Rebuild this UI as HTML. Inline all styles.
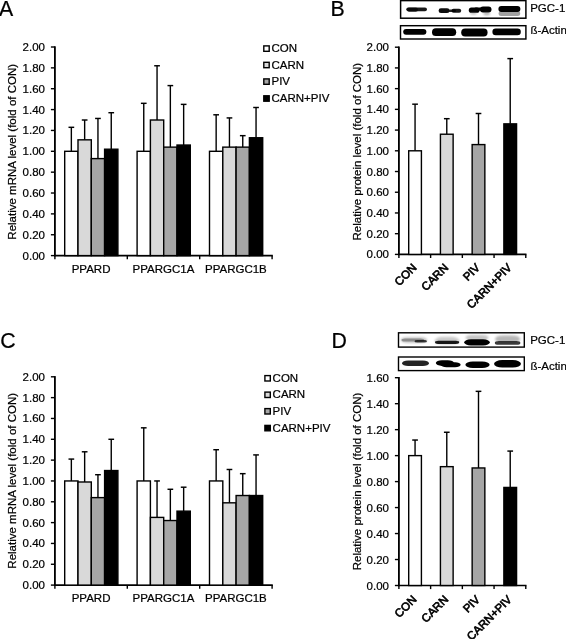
<!DOCTYPE html>
<html><head><meta charset="utf-8"><title>Figure</title>
<style>html,body{margin:0;padding:0;background:#fff;}svg{display:block;}text{font-family:'Liberation Sans', 'DejaVu Sans', sans-serif;fill:#000;stroke:#000;stroke-width:0.22px;}</style>
</head><body>
<svg width="566" height="639" viewBox="0 0 566 639">
<defs>
<filter id="b0" x="-20%" y="-50%" width="140%" height="200%"><feGaussianBlur stdDeviation="0.45"/></filter>
<filter id="b1" x="-20%" y="-50%" width="140%" height="200%"><feGaussianBlur stdDeviation="0.65"/></filter>
<filter id="b2" x="-20%" y="-50%" width="140%" height="200%"><feGaussianBlur stdDeviation="1.1"/></filter>
</defs>
<rect width="566" height="639" fill="#fff"/>
<text x="-0.90" y="15.90" font-size="21.3" text-anchor="start" >A</text>
<text x="330.60" y="16.00" font-size="21.3" text-anchor="start" >B</text>
<text x="0.30" y="348.00" font-size="21.3" text-anchor="start" >C</text>
<text x="331.40" y="348.00" font-size="21.3" text-anchor="start" >D</text>
<line x1="50.90" y1="255.60" x2="54.90" y2="255.60" stroke="#000" stroke-width="1.4"/>
<text x="45.00" y="259.60" font-size="11.5" text-anchor="end" >0.00</text>
<line x1="50.90" y1="234.74" x2="54.90" y2="234.74" stroke="#000" stroke-width="1.4"/>
<text x="45.00" y="238.74" font-size="11.5" text-anchor="end" >0.20</text>
<line x1="50.90" y1="213.88" x2="54.90" y2="213.88" stroke="#000" stroke-width="1.4"/>
<text x="45.00" y="217.88" font-size="11.5" text-anchor="end" >0.40</text>
<line x1="50.90" y1="193.02" x2="54.90" y2="193.02" stroke="#000" stroke-width="1.4"/>
<text x="45.00" y="197.02" font-size="11.5" text-anchor="end" >0.60</text>
<line x1="50.90" y1="172.16" x2="54.90" y2="172.16" stroke="#000" stroke-width="1.4"/>
<text x="45.00" y="176.16" font-size="11.5" text-anchor="end" >0.80</text>
<line x1="50.90" y1="151.30" x2="54.90" y2="151.30" stroke="#000" stroke-width="1.4"/>
<text x="45.00" y="155.30" font-size="11.5" text-anchor="end" >1.00</text>
<line x1="50.90" y1="130.44" x2="54.90" y2="130.44" stroke="#000" stroke-width="1.4"/>
<text x="45.00" y="134.44" font-size="11.5" text-anchor="end" >1.20</text>
<line x1="50.90" y1="109.58" x2="54.90" y2="109.58" stroke="#000" stroke-width="1.4"/>
<text x="45.00" y="113.58" font-size="11.5" text-anchor="end" >1.40</text>
<line x1="50.90" y1="88.72" x2="54.90" y2="88.72" stroke="#000" stroke-width="1.4"/>
<text x="45.00" y="92.72" font-size="11.5" text-anchor="end" >1.60</text>
<line x1="50.90" y1="67.86" x2="54.90" y2="67.86" stroke="#000" stroke-width="1.4"/>
<text x="45.00" y="71.86" font-size="11.5" text-anchor="end" >1.80</text>
<line x1="50.90" y1="47.00" x2="54.90" y2="47.00" stroke="#000" stroke-width="1.4"/>
<text x="45.00" y="51.00" font-size="11.5" text-anchor="end" >2.00</text>
<line x1="54.90" y1="46.30" x2="54.90" y2="256.30" stroke="#000" stroke-width="1.85"/>
<text transform="translate(16.10,151.80) rotate(-90)" font-size="11.5" text-anchor="middle">Relative mRNA level (fold of CON)</text>
<line x1="54.00" y1="255.60" x2="272.80" y2="255.60" stroke="#000" stroke-width="1.6"/>
<line x1="54.90" y1="255.60" x2="54.90" y2="259.20" stroke="#000" stroke-width="1.4"/>
<line x1="127.30" y1="255.60" x2="127.30" y2="259.20" stroke="#000" stroke-width="1.4"/>
<line x1="199.70" y1="255.60" x2="199.70" y2="259.20" stroke="#000" stroke-width="1.4"/>
<line x1="272.10" y1="255.60" x2="272.10" y2="259.20" stroke="#000" stroke-width="1.4"/>
<line x1="71.35" y1="151.30" x2="71.35" y2="127.31" stroke="#000" stroke-width="1.4"/>
<line x1="68.50" y1="127.31" x2="74.20" y2="127.31" stroke="#000" stroke-width="1.45"/>
<line x1="84.65" y1="139.83" x2="84.65" y2="120.01" stroke="#000" stroke-width="1.4"/>
<line x1="81.80" y1="120.01" x2="87.50" y2="120.01" stroke="#000" stroke-width="1.45"/>
<line x1="97.95" y1="158.60" x2="97.95" y2="118.45" stroke="#000" stroke-width="1.4"/>
<line x1="95.10" y1="118.45" x2="100.80" y2="118.45" stroke="#000" stroke-width="1.45"/>
<line x1="111.25" y1="149.21" x2="111.25" y2="112.71" stroke="#000" stroke-width="1.4"/>
<line x1="108.40" y1="112.71" x2="114.10" y2="112.71" stroke="#000" stroke-width="1.45"/>
<rect x="64.70" y="151.30" width="13.30" height="104.30" fill="#ffffff" stroke="#000" stroke-width="1.4"/>
<rect x="78.00" y="139.83" width="13.30" height="115.77" fill="#d9d9d9" stroke="#000" stroke-width="1.4"/>
<rect x="91.30" y="158.60" width="13.30" height="97.00" fill="#a6a6a6" stroke="#000" stroke-width="1.4"/>
<rect x="104.60" y="149.21" width="13.30" height="106.39" fill="#000000" stroke="#000" stroke-width="1.4"/>
<text x="91.10" y="272.80" font-size="11.5" text-anchor="middle" >PPARD</text>
<line x1="143.75" y1="151.30" x2="143.75" y2="103.32" stroke="#000" stroke-width="1.4"/>
<line x1="140.90" y1="103.32" x2="146.60" y2="103.32" stroke="#000" stroke-width="1.45"/>
<line x1="157.05" y1="120.01" x2="157.05" y2="65.77" stroke="#000" stroke-width="1.4"/>
<line x1="154.20" y1="65.77" x2="159.90" y2="65.77" stroke="#000" stroke-width="1.45"/>
<line x1="170.35" y1="147.13" x2="170.35" y2="85.59" stroke="#000" stroke-width="1.4"/>
<line x1="167.50" y1="85.59" x2="173.20" y2="85.59" stroke="#000" stroke-width="1.45"/>
<line x1="183.65" y1="145.04" x2="183.65" y2="104.37" stroke="#000" stroke-width="1.4"/>
<line x1="180.80" y1="104.37" x2="186.50" y2="104.37" stroke="#000" stroke-width="1.45"/>
<rect x="137.10" y="151.30" width="13.30" height="104.30" fill="#ffffff" stroke="#000" stroke-width="1.4"/>
<rect x="150.40" y="120.01" width="13.30" height="135.59" fill="#d9d9d9" stroke="#000" stroke-width="1.4"/>
<rect x="163.70" y="147.13" width="13.30" height="108.47" fill="#a6a6a6" stroke="#000" stroke-width="1.4"/>
<rect x="177.00" y="145.04" width="13.30" height="110.56" fill="#000000" stroke="#000" stroke-width="1.4"/>
<text x="163.50" y="272.80" font-size="11.5" text-anchor="middle" >PPARGC1A</text>
<line x1="216.15" y1="151.30" x2="216.15" y2="114.79" stroke="#000" stroke-width="1.4"/>
<line x1="213.30" y1="114.79" x2="219.00" y2="114.79" stroke="#000" stroke-width="1.45"/>
<line x1="229.45" y1="147.13" x2="229.45" y2="117.92" stroke="#000" stroke-width="1.4"/>
<line x1="226.60" y1="117.92" x2="232.30" y2="117.92" stroke="#000" stroke-width="1.45"/>
<line x1="242.75" y1="147.13" x2="242.75" y2="135.66" stroke="#000" stroke-width="1.4"/>
<line x1="239.90" y1="135.66" x2="245.60" y2="135.66" stroke="#000" stroke-width="1.45"/>
<line x1="256.05" y1="137.74" x2="256.05" y2="107.49" stroke="#000" stroke-width="1.4"/>
<line x1="253.20" y1="107.49" x2="258.90" y2="107.49" stroke="#000" stroke-width="1.45"/>
<rect x="209.50" y="151.30" width="13.30" height="104.30" fill="#ffffff" stroke="#000" stroke-width="1.4"/>
<rect x="222.80" y="147.13" width="13.30" height="108.47" fill="#d9d9d9" stroke="#000" stroke-width="1.4"/>
<rect x="236.10" y="147.13" width="13.30" height="108.47" fill="#a6a6a6" stroke="#000" stroke-width="1.4"/>
<rect x="249.40" y="137.74" width="13.30" height="117.86" fill="#000000" stroke="#000" stroke-width="1.4"/>
<text x="235.90" y="272.80" font-size="11.5" text-anchor="middle" >PPARGC1B</text>
<rect x="263.80" y="45.90" width="5.4" height="5.4" fill="#ffffff" stroke="#000" stroke-width="1.4"/>
<text x="271.50" y="52.20" font-size="11.5" text-anchor="start" >CON</text>
<rect x="263.80" y="62.30" width="5.4" height="5.4" fill="#d9d9d9" stroke="#000" stroke-width="1.4"/>
<text x="271.50" y="68.60" font-size="11.5" text-anchor="start" >CARN</text>
<rect x="263.80" y="78.90" width="5.4" height="5.4" fill="#a6a6a6" stroke="#000" stroke-width="1.4"/>
<text x="271.50" y="85.20" font-size="11.5" text-anchor="start" >PIV</text>
<rect x="263.80" y="95.80" width="5.4" height="5.4" fill="#000000" stroke="#000" stroke-width="1.4"/>
<text x="271.50" y="102.10" font-size="11.5" text-anchor="start" >CARN+PIV</text>
<line x1="50.90" y1="585.10" x2="54.90" y2="585.10" stroke="#000" stroke-width="1.4"/>
<text x="45.00" y="589.10" font-size="11.5" text-anchor="end" >0.00</text>
<line x1="50.90" y1="564.27" x2="54.90" y2="564.27" stroke="#000" stroke-width="1.4"/>
<text x="45.00" y="568.27" font-size="11.5" text-anchor="end" >0.20</text>
<line x1="50.90" y1="543.44" x2="54.90" y2="543.44" stroke="#000" stroke-width="1.4"/>
<text x="45.00" y="547.44" font-size="11.5" text-anchor="end" >0.40</text>
<line x1="50.90" y1="522.61" x2="54.90" y2="522.61" stroke="#000" stroke-width="1.4"/>
<text x="45.00" y="526.61" font-size="11.5" text-anchor="end" >0.60</text>
<line x1="50.90" y1="501.78" x2="54.90" y2="501.78" stroke="#000" stroke-width="1.4"/>
<text x="45.00" y="505.78" font-size="11.5" text-anchor="end" >0.80</text>
<line x1="50.90" y1="480.95" x2="54.90" y2="480.95" stroke="#000" stroke-width="1.4"/>
<text x="45.00" y="484.95" font-size="11.5" text-anchor="end" >1.00</text>
<line x1="50.90" y1="460.12" x2="54.90" y2="460.12" stroke="#000" stroke-width="1.4"/>
<text x="45.00" y="464.12" font-size="11.5" text-anchor="end" >1.20</text>
<line x1="50.90" y1="439.29" x2="54.90" y2="439.29" stroke="#000" stroke-width="1.4"/>
<text x="45.00" y="443.29" font-size="11.5" text-anchor="end" >1.40</text>
<line x1="50.90" y1="418.46" x2="54.90" y2="418.46" stroke="#000" stroke-width="1.4"/>
<text x="45.00" y="422.46" font-size="11.5" text-anchor="end" >1.60</text>
<line x1="50.90" y1="397.63" x2="54.90" y2="397.63" stroke="#000" stroke-width="1.4"/>
<text x="45.00" y="401.63" font-size="11.5" text-anchor="end" >1.80</text>
<line x1="50.90" y1="376.80" x2="54.90" y2="376.80" stroke="#000" stroke-width="1.4"/>
<text x="45.00" y="380.80" font-size="11.5" text-anchor="end" >2.00</text>
<line x1="54.90" y1="376.10" x2="54.90" y2="585.80" stroke="#000" stroke-width="1.85"/>
<text transform="translate(16.00,480.80) rotate(-90)" font-size="11.5" text-anchor="middle">Relative mRNA level (fold of CON)</text>
<line x1="54.00" y1="585.10" x2="272.80" y2="585.10" stroke="#000" stroke-width="1.6"/>
<line x1="54.90" y1="585.10" x2="54.90" y2="588.70" stroke="#000" stroke-width="1.4"/>
<line x1="127.30" y1="585.10" x2="127.30" y2="588.70" stroke="#000" stroke-width="1.4"/>
<line x1="199.70" y1="585.10" x2="199.70" y2="588.70" stroke="#000" stroke-width="1.4"/>
<line x1="272.10" y1="585.10" x2="272.10" y2="588.70" stroke="#000" stroke-width="1.4"/>
<line x1="71.35" y1="480.95" x2="71.35" y2="459.08" stroke="#000" stroke-width="1.4"/>
<line x1="68.50" y1="459.08" x2="74.20" y2="459.08" stroke="#000" stroke-width="1.45"/>
<line x1="84.65" y1="481.99" x2="84.65" y2="451.79" stroke="#000" stroke-width="1.4"/>
<line x1="81.80" y1="451.79" x2="87.50" y2="451.79" stroke="#000" stroke-width="1.45"/>
<line x1="97.95" y1="497.61" x2="97.95" y2="474.70" stroke="#000" stroke-width="1.4"/>
<line x1="95.10" y1="474.70" x2="100.80" y2="474.70" stroke="#000" stroke-width="1.45"/>
<line x1="111.25" y1="470.54" x2="111.25" y2="439.29" stroke="#000" stroke-width="1.4"/>
<line x1="108.40" y1="439.29" x2="114.10" y2="439.29" stroke="#000" stroke-width="1.45"/>
<rect x="64.70" y="480.95" width="13.30" height="104.15" fill="#ffffff" stroke="#000" stroke-width="1.4"/>
<rect x="78.00" y="481.99" width="13.30" height="103.11" fill="#d9d9d9" stroke="#000" stroke-width="1.4"/>
<rect x="91.30" y="497.61" width="13.30" height="87.49" fill="#a6a6a6" stroke="#000" stroke-width="1.4"/>
<rect x="104.60" y="470.54" width="13.30" height="114.56" fill="#000000" stroke="#000" stroke-width="1.4"/>
<text x="91.10" y="602.00" font-size="11.5" text-anchor="middle" >PPARD</text>
<line x1="143.75" y1="480.95" x2="143.75" y2="427.83" stroke="#000" stroke-width="1.4"/>
<line x1="140.90" y1="427.83" x2="146.60" y2="427.83" stroke="#000" stroke-width="1.45"/>
<line x1="157.05" y1="517.40" x2="157.05" y2="480.95" stroke="#000" stroke-width="1.4"/>
<line x1="154.20" y1="480.95" x2="159.90" y2="480.95" stroke="#000" stroke-width="1.45"/>
<line x1="170.35" y1="520.53" x2="170.35" y2="489.28" stroke="#000" stroke-width="1.4"/>
<line x1="167.50" y1="489.28" x2="173.20" y2="489.28" stroke="#000" stroke-width="1.45"/>
<line x1="183.65" y1="511.15" x2="183.65" y2="487.20" stroke="#000" stroke-width="1.4"/>
<line x1="180.80" y1="487.20" x2="186.50" y2="487.20" stroke="#000" stroke-width="1.45"/>
<rect x="137.10" y="480.95" width="13.30" height="104.15" fill="#ffffff" stroke="#000" stroke-width="1.4"/>
<rect x="150.40" y="517.40" width="13.30" height="67.70" fill="#d9d9d9" stroke="#000" stroke-width="1.4"/>
<rect x="163.70" y="520.53" width="13.30" height="64.57" fill="#a6a6a6" stroke="#000" stroke-width="1.4"/>
<rect x="177.00" y="511.15" width="13.30" height="73.95" fill="#000000" stroke="#000" stroke-width="1.4"/>
<text x="163.50" y="602.00" font-size="11.5" text-anchor="middle" >PPARGC1A</text>
<line x1="216.15" y1="480.95" x2="216.15" y2="449.71" stroke="#000" stroke-width="1.4"/>
<line x1="213.30" y1="449.71" x2="219.00" y2="449.71" stroke="#000" stroke-width="1.45"/>
<line x1="229.45" y1="502.82" x2="229.45" y2="469.49" stroke="#000" stroke-width="1.4"/>
<line x1="226.60" y1="469.49" x2="232.30" y2="469.49" stroke="#000" stroke-width="1.45"/>
<line x1="242.75" y1="495.53" x2="242.75" y2="473.66" stroke="#000" stroke-width="1.4"/>
<line x1="239.90" y1="473.66" x2="245.60" y2="473.66" stroke="#000" stroke-width="1.45"/>
<line x1="256.05" y1="495.53" x2="256.05" y2="454.91" stroke="#000" stroke-width="1.4"/>
<line x1="253.20" y1="454.91" x2="258.90" y2="454.91" stroke="#000" stroke-width="1.45"/>
<rect x="209.50" y="480.95" width="13.30" height="104.15" fill="#ffffff" stroke="#000" stroke-width="1.4"/>
<rect x="222.80" y="502.82" width="13.30" height="82.28" fill="#d9d9d9" stroke="#000" stroke-width="1.4"/>
<rect x="236.10" y="495.53" width="13.30" height="89.57" fill="#a6a6a6" stroke="#000" stroke-width="1.4"/>
<rect x="249.40" y="495.53" width="13.30" height="89.57" fill="#000000" stroke="#000" stroke-width="1.4"/>
<text x="235.90" y="602.00" font-size="11.5" text-anchor="middle" >PPARGC1B</text>
<rect x="264.90" y="375.60" width="5.4" height="5.4" fill="#ffffff" stroke="#000" stroke-width="1.4"/>
<text x="272.60" y="381.90" font-size="11.5" text-anchor="start" >CON</text>
<rect x="264.90" y="392.10" width="5.4" height="5.4" fill="#d9d9d9" stroke="#000" stroke-width="1.4"/>
<text x="272.60" y="398.40" font-size="11.5" text-anchor="start" >CARN</text>
<rect x="264.90" y="408.60" width="5.4" height="5.4" fill="#a6a6a6" stroke="#000" stroke-width="1.4"/>
<text x="272.60" y="414.90" font-size="11.5" text-anchor="start" >PIV</text>
<rect x="264.90" y="425.40" width="5.4" height="5.4" fill="#000000" stroke="#000" stroke-width="1.4"/>
<text x="272.60" y="431.70" font-size="11.5" text-anchor="start" >CARN+PIV</text>
<line x1="394.90" y1="254.40" x2="398.90" y2="254.40" stroke="#000" stroke-width="1.4"/>
<text x="389.00" y="258.40" font-size="11.5" text-anchor="end" >0.00</text>
<line x1="394.90" y1="233.68" x2="398.90" y2="233.68" stroke="#000" stroke-width="1.4"/>
<text x="389.00" y="237.68" font-size="11.5" text-anchor="end" >0.20</text>
<line x1="394.90" y1="212.96" x2="398.90" y2="212.96" stroke="#000" stroke-width="1.4"/>
<text x="389.00" y="216.96" font-size="11.5" text-anchor="end" >0.40</text>
<line x1="394.90" y1="192.24" x2="398.90" y2="192.24" stroke="#000" stroke-width="1.4"/>
<text x="389.00" y="196.24" font-size="11.5" text-anchor="end" >0.60</text>
<line x1="394.90" y1="171.52" x2="398.90" y2="171.52" stroke="#000" stroke-width="1.4"/>
<text x="389.00" y="175.52" font-size="11.5" text-anchor="end" >0.80</text>
<line x1="394.90" y1="150.80" x2="398.90" y2="150.80" stroke="#000" stroke-width="1.4"/>
<text x="389.00" y="154.80" font-size="11.5" text-anchor="end" >1.00</text>
<line x1="394.90" y1="130.08" x2="398.90" y2="130.08" stroke="#000" stroke-width="1.4"/>
<text x="389.00" y="134.08" font-size="11.5" text-anchor="end" >1.20</text>
<line x1="394.90" y1="109.36" x2="398.90" y2="109.36" stroke="#000" stroke-width="1.4"/>
<text x="389.00" y="113.36" font-size="11.5" text-anchor="end" >1.40</text>
<line x1="394.90" y1="88.64" x2="398.90" y2="88.64" stroke="#000" stroke-width="1.4"/>
<text x="389.00" y="92.64" font-size="11.5" text-anchor="end" >1.60</text>
<line x1="394.90" y1="67.92" x2="398.90" y2="67.92" stroke="#000" stroke-width="1.4"/>
<text x="389.00" y="71.92" font-size="11.5" text-anchor="end" >1.80</text>
<line x1="394.90" y1="47.20" x2="398.90" y2="47.20" stroke="#000" stroke-width="1.4"/>
<text x="389.00" y="51.20" font-size="11.5" text-anchor="end" >2.00</text>
<line x1="398.90" y1="46.50" x2="398.90" y2="255.10" stroke="#000" stroke-width="1.85"/>
<text transform="translate(360.50,151.65) rotate(-90)" font-size="11.5" text-anchor="middle">Relative protein level (fold of CON)</text>
<line x1="398.00" y1="254.40" x2="526.48" y2="254.40" stroke="#000" stroke-width="1.6"/>
<line x1="398.90" y1="254.40" x2="398.90" y2="258.00" stroke="#000" stroke-width="1.4"/>
<line x1="430.62" y1="254.40" x2="430.62" y2="258.00" stroke="#000" stroke-width="1.4"/>
<line x1="462.34" y1="254.40" x2="462.34" y2="258.00" stroke="#000" stroke-width="1.4"/>
<line x1="494.06" y1="254.40" x2="494.06" y2="258.00" stroke="#000" stroke-width="1.4"/>
<line x1="525.78" y1="254.40" x2="525.78" y2="258.00" stroke="#000" stroke-width="1.4"/>
<line x1="415.06" y1="150.80" x2="415.06" y2="104.18" stroke="#000" stroke-width="1.4"/>
<line x1="412.21" y1="104.18" x2="417.91" y2="104.18" stroke="#000" stroke-width="1.45"/>
<rect x="408.71" y="150.80" width="12.70" height="103.60" fill="#ffffff" stroke="#000" stroke-width="1.4"/>
<text transform="translate(417.36,268.40) rotate(-45)" font-size="11.5" text-anchor="end" style="stroke-width:0.65px">CON</text>
<line x1="446.78" y1="134.22" x2="446.78" y2="118.68" stroke="#000" stroke-width="1.4"/>
<line x1="443.93" y1="118.68" x2="449.63" y2="118.68" stroke="#000" stroke-width="1.45"/>
<rect x="440.43" y="134.22" width="12.70" height="120.18" fill="#d9d9d9" stroke="#000" stroke-width="1.4"/>
<text transform="translate(449.08,268.40) rotate(-45)" font-size="11.5" text-anchor="end" style="stroke-width:0.65px">CARN</text>
<line x1="478.50" y1="144.58" x2="478.50" y2="113.50" stroke="#000" stroke-width="1.4"/>
<line x1="475.65" y1="113.50" x2="481.35" y2="113.50" stroke="#000" stroke-width="1.45"/>
<rect x="472.15" y="144.58" width="12.70" height="109.82" fill="#a6a6a6" stroke="#000" stroke-width="1.4"/>
<text transform="translate(480.80,268.40) rotate(-45)" font-size="11.5" text-anchor="end" style="stroke-width:0.65px">PIV</text>
<line x1="510.22" y1="123.86" x2="510.22" y2="58.60" stroke="#000" stroke-width="1.4"/>
<line x1="507.37" y1="58.60" x2="513.07" y2="58.60" stroke="#000" stroke-width="1.45"/>
<rect x="503.87" y="123.86" width="12.70" height="130.54" fill="#000000" stroke="#000" stroke-width="1.4"/>
<text transform="translate(512.52,268.40) rotate(-45)" font-size="11.5" text-anchor="end" style="stroke-width:0.65px">CARN+PIV</text>
<rect x="400.60" y="0.60" width="125.30" height="17.60" fill="#fff" stroke="#000" stroke-width="1.5"/>
<rect x="400.50" y="25.70" width="125.40" height="13.30" fill="#fff" stroke="#000" stroke-width="1.45"/>
<text x="530.20" y="12.20" font-size="11.5" text-anchor="start" >PGC-1</text>
<text x="530.40" y="34.30" font-size="11.5" text-anchor="start" >ß-Actin</text>
<rect x="406.30" y="7.40" width="20.70" height="3.90" rx="1.95" fill="#111" opacity="0.95" filter="url(#b1)"/>
<rect x="407.00" y="7.60" width="11.00" height="4.30" rx="2.15" fill="#000" opacity="0.6" filter="url(#b1)"/>
<rect x="438.60" y="8.30" width="10.90" height="4.70" rx="2.35" fill="#000" opacity="0.95" filter="url(#b1)"/>
<rect x="444.00" y="9.40" width="12.00" height="2.60" rx="1.30" fill="#111" opacity="0.9" filter="url(#b1)"/>
<rect x="451.50" y="8.80" width="9.70" height="4.00" rx="2.00" fill="#000" opacity="0.9" filter="url(#b1)"/>
<rect x="468.80" y="7.60" width="10.70" height="5.20" rx="2.60" fill="#000" opacity="1.0" filter="url(#b1)"/>
<rect x="474.00" y="7.60" width="10.00" height="3.20" rx="1.60" fill="#000" opacity="1.0" filter="url(#b1)"/>
<rect x="480.00" y="6.40" width="11.50" height="6.00" rx="3.00" fill="#000" opacity="1.0" filter="url(#b1)"/>
<rect x="470.50" y="12.00" width="6.00" height="2.60" rx="1.30" fill="#444" opacity="0.35" filter="url(#b2)"/>
<rect x="483.50" y="12.00" width="6.50" height="3.20" rx="1.60" fill="#444" opacity="0.4" filter="url(#b2)"/>
<rect x="498.60" y="11.00" width="21.60" height="5.00" rx="2.50" fill="#555" opacity="0.55" filter="url(#b1)"/>
<rect x="498.40" y="5.90" width="22.00" height="6.00" rx="3.00" fill="#000" opacity="1.0" filter="url(#b1)"/>
<rect x="403.20" y="28.90" width="23.20" height="5.80" rx="2.90" fill="#000" opacity="1.0" filter="url(#b0)"/>
<rect x="432.00" y="28.30" width="24.20" height="7.70" rx="3.85" fill="#000" opacity="1.0" filter="url(#b0)"/>
<rect x="461.20" y="28.50" width="26.40" height="7.90" rx="3.95" fill="#000" opacity="1.0" filter="url(#b0)"/>
<rect x="492.40" y="28.60" width="28.40" height="6.60" rx="3.30" fill="#000" opacity="1.0" filter="url(#b0)"/>
<line x1="394.90" y1="585.50" x2="398.90" y2="585.50" stroke="#000" stroke-width="1.4"/>
<text x="389.00" y="589.50" font-size="11.5" text-anchor="end" >0.00</text>
<line x1="394.90" y1="559.52" x2="398.90" y2="559.52" stroke="#000" stroke-width="1.4"/>
<text x="389.00" y="563.52" font-size="11.5" text-anchor="end" >0.20</text>
<line x1="394.90" y1="533.55" x2="398.90" y2="533.55" stroke="#000" stroke-width="1.4"/>
<text x="389.00" y="537.55" font-size="11.5" text-anchor="end" >0.40</text>
<line x1="394.90" y1="507.57" x2="398.90" y2="507.57" stroke="#000" stroke-width="1.4"/>
<text x="389.00" y="511.57" font-size="11.5" text-anchor="end" >0.60</text>
<line x1="394.90" y1="481.60" x2="398.90" y2="481.60" stroke="#000" stroke-width="1.4"/>
<text x="389.00" y="485.60" font-size="11.5" text-anchor="end" >0.80</text>
<line x1="394.90" y1="455.62" x2="398.90" y2="455.62" stroke="#000" stroke-width="1.4"/>
<text x="389.00" y="459.62" font-size="11.5" text-anchor="end" >1.00</text>
<line x1="394.90" y1="429.65" x2="398.90" y2="429.65" stroke="#000" stroke-width="1.4"/>
<text x="389.00" y="433.65" font-size="11.5" text-anchor="end" >1.20</text>
<line x1="394.90" y1="403.68" x2="398.90" y2="403.68" stroke="#000" stroke-width="1.4"/>
<text x="389.00" y="407.68" font-size="11.5" text-anchor="end" >1.40</text>
<line x1="394.90" y1="377.70" x2="398.90" y2="377.70" stroke="#000" stroke-width="1.4"/>
<text x="389.00" y="381.70" font-size="11.5" text-anchor="end" >1.60</text>
<line x1="398.90" y1="377.00" x2="398.90" y2="586.20" stroke="#000" stroke-width="1.85"/>
<text transform="translate(360.50,481.45) rotate(-90)" font-size="11.5" text-anchor="middle">Relative protein level (fold of CON)</text>
<line x1="398.00" y1="585.50" x2="526.48" y2="585.50" stroke="#000" stroke-width="1.6"/>
<line x1="398.90" y1="585.50" x2="398.90" y2="589.10" stroke="#000" stroke-width="1.4"/>
<line x1="430.62" y1="585.50" x2="430.62" y2="589.10" stroke="#000" stroke-width="1.4"/>
<line x1="462.34" y1="585.50" x2="462.34" y2="589.10" stroke="#000" stroke-width="1.4"/>
<line x1="494.06" y1="585.50" x2="494.06" y2="589.10" stroke="#000" stroke-width="1.4"/>
<line x1="525.78" y1="585.50" x2="525.78" y2="589.10" stroke="#000" stroke-width="1.4"/>
<line x1="415.06" y1="455.62" x2="415.06" y2="440.04" stroke="#000" stroke-width="1.4"/>
<line x1="412.21" y1="440.04" x2="417.91" y2="440.04" stroke="#000" stroke-width="1.45"/>
<rect x="408.71" y="455.62" width="12.70" height="129.88" fill="#ffffff" stroke="#000" stroke-width="1.4"/>
<text transform="translate(417.36,600.20) rotate(-45)" font-size="11.5" text-anchor="end" style="stroke-width:0.65px">CON</text>
<line x1="446.78" y1="466.66" x2="446.78" y2="432.25" stroke="#000" stroke-width="1.4"/>
<line x1="443.93" y1="432.25" x2="449.63" y2="432.25" stroke="#000" stroke-width="1.45"/>
<rect x="440.43" y="466.66" width="12.70" height="118.84" fill="#d9d9d9" stroke="#000" stroke-width="1.4"/>
<text transform="translate(449.08,600.20) rotate(-45)" font-size="11.5" text-anchor="end" style="stroke-width:0.65px">CARN</text>
<line x1="478.50" y1="467.96" x2="478.50" y2="391.34" stroke="#000" stroke-width="1.4"/>
<line x1="475.65" y1="391.34" x2="481.35" y2="391.34" stroke="#000" stroke-width="1.45"/>
<rect x="472.15" y="467.96" width="12.70" height="117.54" fill="#a6a6a6" stroke="#000" stroke-width="1.4"/>
<text transform="translate(480.80,600.20) rotate(-45)" font-size="11.5" text-anchor="end" style="stroke-width:0.65px">PIV</text>
<line x1="510.22" y1="487.44" x2="510.22" y2="451.08" stroke="#000" stroke-width="1.4"/>
<line x1="507.37" y1="451.08" x2="513.07" y2="451.08" stroke="#000" stroke-width="1.45"/>
<rect x="503.87" y="487.44" width="12.70" height="98.06" fill="#000000" stroke="#000" stroke-width="1.4"/>
<text transform="translate(512.52,600.20) rotate(-45)" font-size="11.5" text-anchor="end" style="stroke-width:0.65px">CARN+PIV</text>
<rect x="398.50" y="332.80" width="125.80" height="14.30" fill="#fff" stroke="#000" stroke-width="1.4"/>
<rect x="398.50" y="357.00" width="125.80" height="13.60" fill="#fff" stroke="#000" stroke-width="1.4"/>
<text x="530.20" y="343.50" font-size="11.5" text-anchor="start" >PGC-1</text>
<text x="530.40" y="369.70" font-size="11.5" text-anchor="start" >ß-Actin</text>
<rect x="400.60" y="337.30" width="26.60" height="5.60" rx="6.16" ry="2.80" fill="#555" opacity="0.34" filter="url(#b2)"/>
<rect x="401.50" y="338.50" width="22.50" height="3.00" rx="3.30" ry="1.50" fill="#444" opacity="0.45" filter="url(#b1)"/>
<rect x="414.50" y="339.95" width="12.50" height="2.50" rx="2.75" ry="1.25" fill="#111" opacity="0.8" filter="url(#b1)"/>
<rect x="434.60" y="336.80" width="24.80" height="7.80" rx="8.58" ry="3.90" fill="#555" opacity="0.3" filter="url(#b2)"/>
<rect x="435.00" y="340.80" width="24.20" height="3.10" rx="3.41" ry="1.55" fill="#080808" opacity="0.95" filter="url(#b1)"/>
<rect x="465.50" y="334.90" width="23.00" height="5.60" rx="6.16" ry="2.80" fill="#555" opacity="0.33" filter="url(#b2)"/>
<rect x="464.20" y="339.30" width="25.60" height="6.10" rx="6.71" ry="3.05" fill="#000" opacity="1.0" filter="url(#b1)"/>
<rect x="495.00" y="335.50" width="25.20" height="7.00" rx="7.70" ry="3.50" fill="#555" opacity="0.42" filter="url(#b2)"/>
<rect x="494.80" y="341.00" width="25.60" height="3.80" rx="4.18" ry="1.90" fill="#1a1a1a" opacity="0.85" filter="url(#b1)"/>
<rect x="402.00" y="360.50" width="27.00" height="5.50" rx="6.05" ry="2.75" fill="#111" opacity="0.9" filter="url(#b1)"/>
<rect x="435.80" y="360.30" width="18.20" height="5.60" rx="6.16" ry="2.80" fill="#000" opacity="1.0" filter="url(#b1)"/>
<rect x="441.00" y="362.30" width="19.60" height="5.00" rx="5.50" ry="2.50" fill="#000" opacity="1.0" filter="url(#b1)"/>
<rect x="465.40" y="361.40" width="24.20" height="6.70" rx="7.37" ry="3.35" fill="#000" opacity="1.0" filter="url(#b1)"/>
<rect x="494.00" y="360.10" width="27.00" height="7.50" rx="8.25" ry="3.75" fill="#000" opacity="1.0" filter="url(#b1)"/>
</svg></body></html>
